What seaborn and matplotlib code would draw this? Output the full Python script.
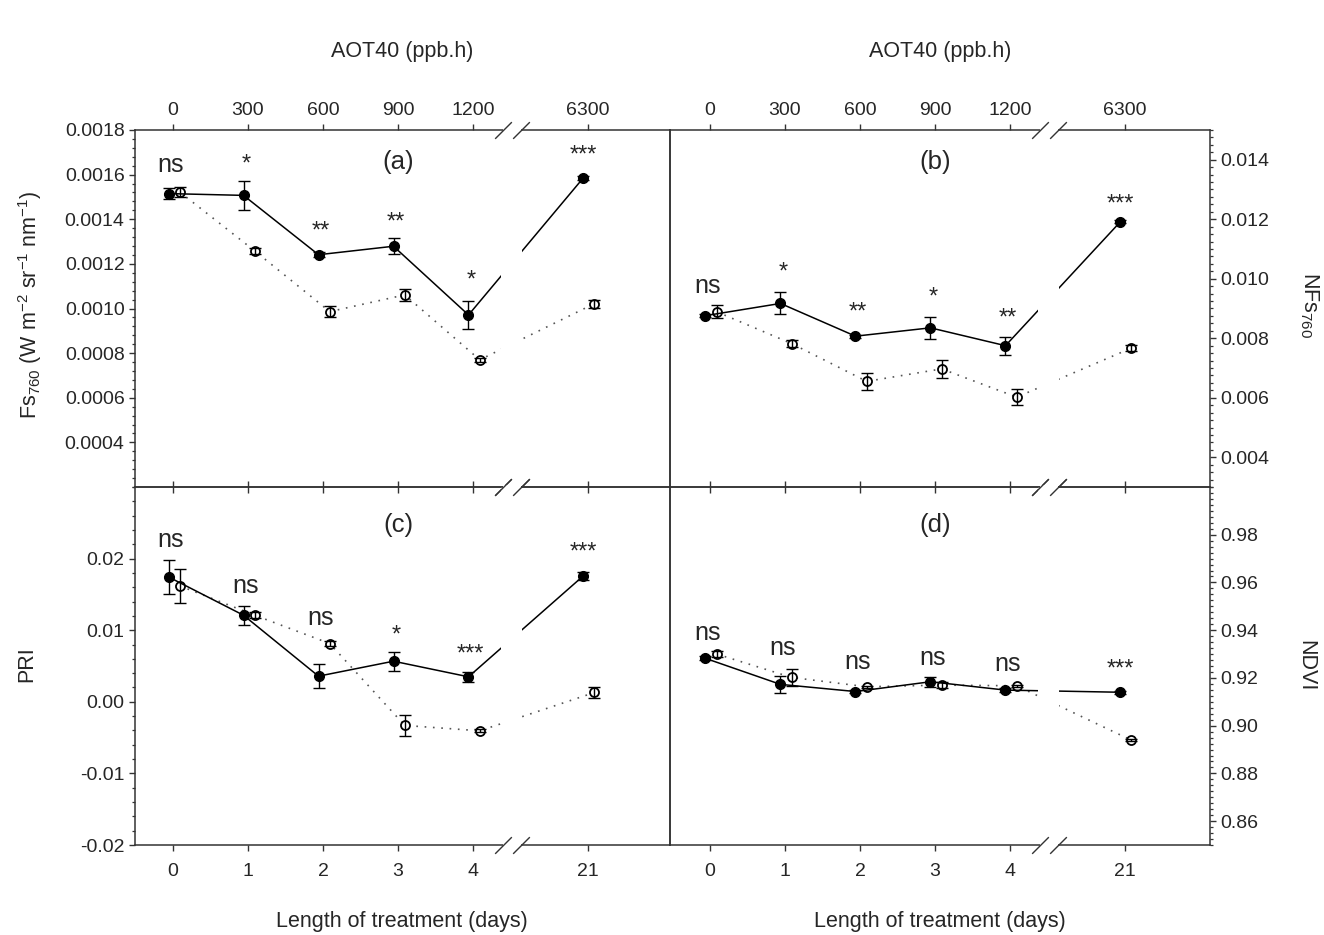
import numpy as np
import pandas as pd
import matplotlib
matplotlib.use('Agg')
import matplotlib.pyplot as plt
import matplotlib.transforms as mtransforms
from matplotlib.ticker import FixedLocator, AutoMinorLocator, FormatStrFormatter
import seaborn as sns

sns.set_style('ticks')
plt.rcParams['font.family'] = ['Liberation Sans', 'DejaVu Sans']
plt.rcParams['mathtext.fontset'] = 'custom'
plt.rcParams['mathtext.rm'] = 'Liberation Sans'
plt.rcParams['mathtext.it'] = 'Liberation Sans:italic'
plt.rcParams['mathtext.bf'] = 'Liberation Sans:bold'
plt.rcParams['axes.unicode_minus'] = False

# ---------------- data ----------------
days = [0, 1, 2, 3, 4, 21]
day_labels = ['0', '1', '2', '3', '4', '21']
aot40_labels = ['0', '300', '600', '900', '1200', '6300']

# (a) Fs760
fs_filled = [0.001515, 0.001507, 0.001241, 0.001279, 0.000971, 0.001585]
fs_filled_se = [0.000023, 0.000065, 0.000010, 0.000035, 0.000064, 0.000008]
fs_open = [0.001522, 0.001258, 0.000986, 0.001061, 0.000770, 0.001022]
fs_open_se = [0.000022, 0.000013, 0.000023, 0.000027, 0.000008, 0.000018]
fs_sig = ['ns', '*', '**', '**', '*', '***']
fs_sig_y = [0.001642, 0.001680, 0.001380, 0.001417, 0.001157, 0.001717]

# (b) NFs760
nfs_filled = [0.00876, 0.00917, 0.00807, 0.00835, 0.00775, 0.01191]
nfs_filled_se = [0.00005, 0.00037, 0.00005, 0.00038, 0.00030, 0.00005]
nfs_open = [0.00889, 0.00782, 0.00655, 0.00697, 0.00602, 0.00767]
nfs_open_se = [0.00022, 0.00013, 0.00028, 0.00030, 0.00028, 0.00011]
nfs_sig = ['ns', '*', '**', '*', '**', '***']
nfs_sig_y = [0.00973, 0.01046, 0.00911, 0.00962, 0.00892, 0.01274]

# (c) PRI
pri_filled = [0.01744, 0.01209, 0.00358, 0.00567, 0.00349, 0.01758]
pri_filled_se = [0.00233, 0.00130, 0.00170, 0.00135, 0.00074, 0.00050]
pri_open = [0.01619, 0.01209, 0.00814, -0.00330, -0.00405, 0.00130]
pri_open_se = [0.00240, 0.00040, 0.00030, 0.00150, 0.00020, 0.00070]
pri_sig = ['ns', 'ns', 'ns', '*', '***', '***']
pri_sig_y = [0.02256, 0.01605, 0.01163, 0.01023, 0.00767, 0.02186]

# (d) NDVI
ndvi_filled = [0.9282, 0.9173, 0.9143, 0.9184, 0.9149, 0.9140]
ndvi_filled_se = [0.0008, 0.0036, 0.0006, 0.0020, 0.0008, 0.0006]
ndvi_open = [0.9300, 0.9202, 0.9163, 0.9170, 0.9167, 0.8939]
ndvi_open_se = [0.0014, 0.0035, 0.0005, 0.0014, 0.0005, 0.0004]
ndvi_sig = ['ns', 'ns', 'ns', 'ns', 'ns', '***']
ndvi_sig_y = [0.93868, 0.93238, 0.92636, 0.92818, 0.92580, 0.92678]

panel_letters = ['(a)', '(b)', '(c)', '(d)']
panel_letter_y = [0.001657, 0.01394, 0.02465, 0.9842]

# ---------------- layout ----------------
W, H = 1324, 935
fig = plt.figure(figsize=(W / 100, H / 100), dpi=100)
fig.patch.set_facecolor('white')

BREAK_POS = 5.53          # axis position of the 21-day point (after the break)
BREAK_LO, BREAK_HI = 4.40, 4.64
positions = [d if d <= 4 else BREAK_POS for d in days]


def px_axes(x0, x1, y0, y1):
    return fig.add_axes([x0 / W, 1 - y1 / H, (x1 - x0) / W, (y1 - y0) / H])


ax_a = px_axes(135, 670, 130, 487)
ax_b = px_axes(670, 1210, 130, 487)
ax_c = px_axes(135, 670, 487, 845)
ax_d = px_axes(670, 1210, 487, 845)

panels = [
    dict(ax=ax_a, f=fs_filled, fse=fs_filled_se, o=fs_open, ose=fs_open_se,
         sig=fs_sig, sigy=fs_sig_y, ylim=(0.0002, 0.0018),
         yticks=[0.0004, 0.0006, 0.0008, 0.0010, 0.0012, 0.0014, 0.0016, 0.0018],
         fmt='%.4f', minor=5, side='left', top=True, xlim=(-0.507, 6.627)),
    dict(ax=ax_b, f=nfs_filled, fse=nfs_filled_se, o=nfs_open, ose=nfs_open_se,
         sig=nfs_sig, sigy=nfs_sig_y, ylim=(0.003, 0.015),
         yticks=[0.004, 0.006, 0.008, 0.010, 0.012, 0.014],
         fmt='%.3f', minor=8, side='right', top=True, xlim=(-0.533, 6.667)),
    dict(ax=ax_c, f=pri_filled, fse=pri_filled_se, o=pri_open, ose=pri_open_se,
         sig=pri_sig, sigy=pri_sig_y, ylim=(-0.02, 0.03),
         yticks=[-0.02, -0.01, 0.00, 0.01, 0.02],
         fmt='%.2f', minor=5, side='left', top=False, xlim=(-0.507, 6.627)),
    dict(ax=ax_d, f=ndvi_filled, fse=ndvi_filled_se, o=ndvi_open, ose=ndvi_open_se,
         sig=ndvi_sig, sigy=ndvi_sig_y, ylim=(0.85, 1.0),
         yticks=[0.86, 0.88, 0.90, 0.92, 0.94, 0.96, 0.98],
         fmt='%.2f', minor=8, side='right', top=False, xlim=(-0.533, 6.667)),
]

TICK_FS = 14
NS_FS = 18
STAR_FS = 17
LAB_FS = 15.5
OFF_F, OFF_O = -0.06, 0.09

for i, p in enumerate(panels):
    ax = p['ax']
    ax.set_facecolor('none')
    df = pd.DataFrame({
        'pos': positions * 2,
        'value': p['f'] + p['o'],
        'se': p['fse'] + p['ose'],
        'series': ['filled'] * 6 + ['open'] * 6,
    })
    df['x'] = df['pos'] + np.where(df['series'] == 'filled', OFF_F, OFF_O)
    dff = df[df['series'] == 'filled']
    dfo = df[df['series'] == 'open']

    # error bars
    ax.errorbar(dff['x'], dff['value'], yerr=dff['se'], fmt='none', ecolor='black',
                elinewidth=1.0, capsize=4, capthick=1.0, zorder=2.6)
    ax.errorbar(dfo['x'], dfo['value'], yerr=dfo['se'], fmt='none', ecolor='black',
                elinewidth=1.0, capsize=4, capthick=1.0, zorder=2.7)

    sns.lineplot(data=dfo, x='x', y='value', ax=ax, color='#555555', lw=1.2,
                 linestyle=(0, (1, 4)), marker='o', markersize=6.5,
                 markerfacecolor='white', markeredgecolor='black',
                 markeredgewidth=1.3, errorbar=None, legend=False, sort=False,
                 zorder=2)
    sns.lineplot(data=dff, x='x', y='value', ax=ax, color='black', lw=1.1,
                 marker='o', markersize=7, markerfacecolor='black',
                 markeredgecolor='black', markeredgewidth=1.0, errorbar=None,
                 legend=False, sort=False, zorder=2)

    # white band hiding the lines across the axis break
    ax.axvspan(BREAK_LO - 0.02, BREAK_HI + 0.02, color='white', zorder=2.3, lw=0)

    ax.set_xlim(*p['xlim'])
    ax.set_ylim(*p['ylim'])
    ax.set_xlabel('')
    ax.set_ylabel('')

    # x ticks
    ax.xaxis.set_major_locator(FixedLocator(positions))
    ax.tick_params(axis='x', which='major', direction='out', length=4, width=1,
                   top=True, bottom=True, labelsize=TICK_FS, color='#333333')
    if p['top']:
        ax.set_xticklabels(aot40_labels)
        ax.tick_params(axis='x', labeltop=True, labelbottom=False, pad=4)
    else:
        ax.set_xticklabels(day_labels)
        ax.tick_params(axis='x', labeltop=False, labelbottom=True, pad=9)

    # y ticks
    ax.yaxis.set_major_locator(FixedLocator(p['yticks']))
    ax.yaxis.set_major_formatter(FormatStrFormatter(p['fmt']))
    ax.yaxis.set_minor_locator(AutoMinorLocator(p['minor']))
    if p['side'] == 'left':
        ax.tick_params(axis='y', which='both', left=True, right=False,
                       labelleft=True, labelright=False)
    else:
        ax.tick_params(axis='y', which='both', left=False, right=True,
                       labelleft=False, labelright=True)
    ax.tick_params(axis='y', which='major', direction='out', length=4.5, width=1,
                   labelsize=TICK_FS, pad=3, color='#333333')
    ax.tick_params(axis='y', which='minor', direction='out', length=2.5,
                   width=0.9, color='#333333')

    for s in ax.spines.values():
        s.set_visible(True)
        s.set_linewidth(1.1)
        s.set_color('#333333')
        s.set_zorder(2.5)

    # axis break marks on top and bottom spines
    trans = mtransforms.blended_transform_factory(ax.transData, ax.transAxes)
    for yy in (0, 1):
        ax.plot([BREAK_LO, BREAK_HI], [yy, yy], transform=trans, color='white',
                lw=3, clip_on=False, zorder=5, solid_capstyle='butt')
        ax.plot([BREAK_LO, BREAK_HI], [yy, yy], transform=trans, linestyle='none',
                marker=[(-1, -1), (1, 1)], markersize=12, markeredgewidth=1.0,
                color='#333333', clip_on=False, zorder=6)

    # significance labels
    for x, lab, yv in zip(positions, p['sig'], p['sigy']):
        xx = x - (0.06 if x == BREAK_POS else 0.03)
        if lab == 'ns':
            ax.annotate(lab, (xx, yv), xytext=(0, -0.26 * NS_FS), textcoords='offset points',
                        ha='center', va='baseline', fontsize=NS_FS, zorder=7)
        else:
            ax.annotate(lab, (xx, yv), xytext=(0, -0.57 * STAR_FS), textcoords='offset points',
                        ha='center', va='baseline', fontsize=STAR_FS, zorder=7)

    ax.text(3, panel_letter_y[i], panel_letters[i], ha='center', va='center',
            fontsize=18.5, zorder=7)

# axis titles
fig.text(402 / W, 1 - 52 / H, 'AOT40 (ppb.h)', ha='center', va='center', fontsize=LAB_FS)
fig.text(940 / W, 1 - 52 / H, 'AOT40 (ppb.h)', ha='center', va='center', fontsize=LAB_FS)
fig.text(402 / W, 1 - 921 / H, 'Length of treatment (days)', ha='center', va='center',
         fontsize=LAB_FS)
fig.text(940 / W, 1 - 921 / H, 'Length of treatment (days)', ha='center', va='center',
         fontsize=LAB_FS)
fig.text(30 / W, 1 - 305 / H,
         r'Fs$_{\mathregular{760}}$ (W m$^{\mathregular{-2}}$ sr$^{\mathregular{-1}}$ nm$^{\mathregular{-1}}$)',
         ha='center', va='center', rotation=90, fontsize=LAB_FS)
fig.text(27 / W, 1 - 664 / H, 'PRI', ha='center', va='center', rotation=90, fontsize=LAB_FS)
fig.text(1309 / W, 1 - 305 / H, r'NFs$_{\mathregular{760}}$', ha='center', va='center',
         rotation=270, fontsize=LAB_FS)
fig.text(1306 / W, 1 - 666 / H, 'NDVI', ha='center', va='center', rotation=270,
         fontsize=LAB_FS)

fig.savefig('out.png', dpi=100, facecolor='white')
